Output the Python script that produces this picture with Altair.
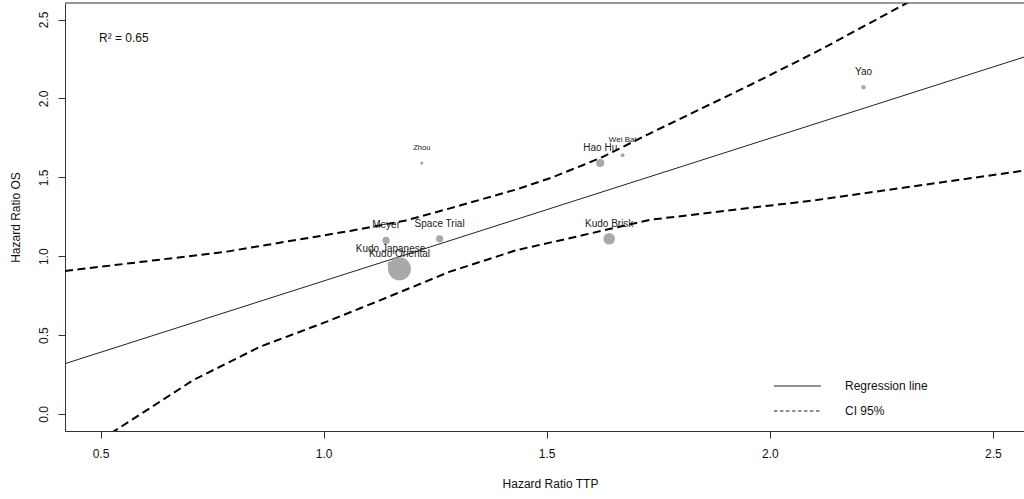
import altair as alt
import pandas as pd

# ---- data ----
studies = ["Kudo Oriental", "Kudo Japanese", "Kudo Brisk", "Hao Hu", "Meyer",
           "Space Trial", "Yao", "Wei Bai", "Zhou"]
hr_ttp = [1.17, 1.15, 1.64, 1.62, 1.14, 1.26, 2.21, 1.67, 1.22]
hr_os = [0.92, 0.95, 1.11, 1.59, 1.10, 1.11, 2.07, 1.64, 1.59]
weight = [531, 35, 133, 66, 52, 52, 20, 16, 10]          # marker area
label_size = [10, 10, 10, 10, 10, 10, 10, 8, 7.5]

reg_x = [0.4204, 2.5697]
reg_y = [0.319, 2.262]

ci_up_x = [0.4204, 0.783, 1.059, 1.182, 1.283, 1.433, 1.507, 1.582, 1.626,
           1.732, 1.956, 2.105, 2.303, 2.35]
ci_up_y = [0.906, 1.029, 1.160, 1.225, 1.303, 1.424, 1.494, 1.578, 1.630,
           1.779, 2.085, 2.296, 2.598, 2.671]
ci_lo_x = [0.50, 0.529, 0.708, 0.858, 1.007, 1.082, 1.126, 1.283, 1.433,
           1.582, 1.732, 2.105, 2.5697]
ci_lo_y = [-0.165, -0.112, 0.215, 0.427, 0.585, 0.670, 0.720, 0.902, 1.039,
           1.134, 1.231, 1.356, 1.542]

x_ticks = [0.5, 1.0, 1.5, 2.0, 2.5]
y_ticks = [0.0, 0.5, 1.0, 1.5, 2.0, 2.5]
x_domain = [0.4204, 2.5697]
y_domain = [-0.1077, 2.6046]

legend_labels = ["Regression line", "CI 95%"]
r2_text = "R² = 0.65"

# ---- tables ----
pts = pd.DataFrame({"study": studies, "ttp": hr_ttp, "os": hr_os,
                    "w": weight, "fs": label_size})
reg = pd.DataFrame({"ttp": reg_x, "os": reg_y})
up = pd.DataFrame({"ttp": ci_up_x, "os": ci_up_y, "i": range(len(ci_up_x))})
lo = pd.DataFrame({"ttp": ci_lo_x, "os": ci_lo_y, "i": range(len(ci_lo_x))})

W, H = 959, 428
FONT = "Liberation Sans"

xs = alt.Scale(domain=x_domain, nice=False, zero=False)
ys = alt.Scale(domain=y_domain, nice=False, zero=False)

X = alt.X("ttp:Q", scale=xs, axis=alt.Axis(
    values=x_ticks, format=".1f", title="Hazard Ratio TTP", labelPadding=10,
    titleX=485, titleY=52, titleAlign="center", titleBaseline="middle",
    labelFlush=False))
Y = alt.Y("os:Q", scale=ys, axis=alt.Axis(
    values=y_ticks, format=".1f", title="Hazard Ratio OS", labelAngle=270,
    labelAlign="center", labelBaseline="alphabetic", labelPadding=11,
    titleAngle=270, titleX=-50, titleY=214, titleAlign="center",
    titleBaseline="middle", labelFlush=False))

reg_line = alt.Chart(reg).mark_line(color="#222", strokeWidth=1, clip=True).encode(x=X, y=Y)
up_line = alt.Chart(up).mark_line(color="black", strokeWidth=2, strokeDash=[8, 4.5],
                                  clip=True).encode(x="ttp:Q", y="os:Q", order="i:Q")
lo_line = alt.Chart(lo).mark_line(color="black", strokeWidth=2, strokeDash=[8, 4.5],
                                  clip=True).encode(x="ttp:Q", y="os:Q", order="i:Q")

points = alt.Chart(pts).mark_circle(color="#A9A9A9", opacity=1).encode(
    x="ttp:Q", y="os:Q", size=alt.Size("w:Q", scale=None, legend=None))
labels = alt.Chart(pts).mark_text(font=FONT, color="#1a1a1a", dy=-15,
                                  baseline="middle", align="center").encode(
    x="ttp:Q", y="os:Q", text="study:N", size=alt.Size("fs:Q", scale=None, legend=None))

one = pd.DataFrame({"t": [r2_text]})
r2 = alt.Chart(one).mark_text(font=FONT, fontSize=12, color="#111", align="left",
                              baseline="middle").encode(
    x=alt.value(34), y=alt.value(35), text="t:N")

top_border = alt.Chart(one).mark_rule(color="#333", strokeWidth=1).encode(
    x=alt.value(0), x2=alt.value(W), y=alt.value(0))

leg1 = pd.DataFrame({"t": [legend_labels[0]]})
leg2 = pd.DataFrame({"t": [legend_labels[1]]})
leg_line1 = alt.Chart(leg1).mark_rule(color="#222", strokeWidth=1).encode(
    x=alt.value(709), x2=alt.value(756), y=alt.value(383))
leg_line2 = alt.Chart(leg2).mark_rule(color="#222", strokeWidth=1, strokeDash=[3.5, 2.5]).encode(
    x=alt.value(709), x2=alt.value(756), y=alt.value(408))
leg_text1 = alt.Chart(leg1).mark_text(font=FONT, fontSize=12, color="#111", align="left",
                                      baseline="middle").encode(
    x=alt.value(780), y=alt.value(383), text="t:N")
leg_text2 = alt.Chart(leg2).mark_text(font=FONT, fontSize=12, color="#111", align="left",
                                      baseline="middle").encode(
    x=alt.value(780), y=alt.value(408), text="t:N")

chart = alt.layer(
    reg_line, up_line, lo_line, points, labels, r2, top_border,
    leg_line1, leg_line2, leg_text1, leg_text2
).properties(
    width=W, height=H,
    padding={"left": 65, "top": 3, "right": 0, "bottom": 68},
    autosize=alt.AutoSizeParams(type="none"),
    background="white",
).configure_view(stroke=None).configure_axis(
    labelFont=FONT, titleFont=FONT, labelFontSize=12, titleFontSize=12,
    titleFontWeight="normal", labelColor="#111", titleColor="#111",
    domainColor="#333", tickColor="#333", tickSize=7, grid=False,
)

chart.save("out.html", embed_options={"renderer": "svg", "actions": False})
